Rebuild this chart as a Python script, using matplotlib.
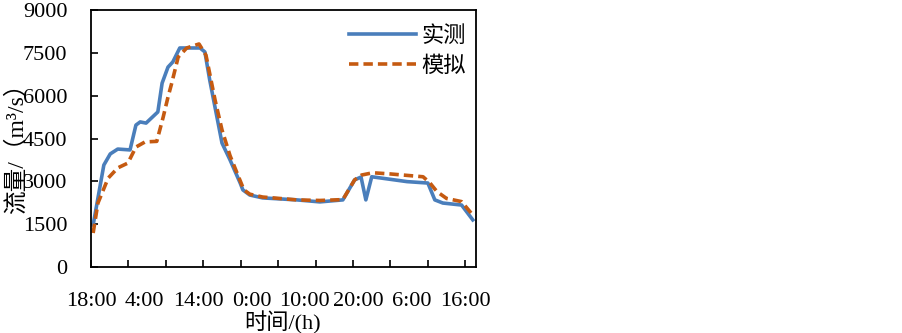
import matplotlib
matplotlib.use("Agg")
import matplotlib.pyplot as plt

# hours since 18:00 on day one
measured_hours = [0.4, 2.4, 3.6, 5.0, 7.3, 8.4, 9.2, 10.3, 12.5, 13.3, 14.4, 15.3, 16.6,
                  20.4, 21.3, 22.2, 24.5, 26.0, 27.9, 28.4, 29.7, 32.1, 38.5, 42.8, 47.1,
                  49.3, 50.5, 51.4, 52.5, 59.1, 63.0, 64.3, 65.8, 69.3, 71.4]
measured_flow = [1470, 3570, 3960, 4130, 4100, 4970, 5080, 5040, 5430, 6440, 7000, 7180, 7670,
                 7670, 7530, 6550, 4340, 3750, 2940, 2700, 2520, 2420, 2350, 2280, 2350,
                 3050, 3150, 2350, 3160, 2990, 2940, 2350, 2240, 2170, 1650]

sim_hours = [0.4, 1.3, 3.2, 5.0, 6.9, 8.4, 10.1, 12.3, 13.5, 14.4, 15.1, 16.3, 17.9,
             20.2, 21.5, 23.2, 24.5, 26.0, 27.4, 28.6, 29.7, 32.1, 38.5, 42.8, 47.1,
             49.3, 50.6, 52.7, 55.9, 62.1, 63.4, 64.7, 66.5, 69.3, 71.4]
sim_flow = [1190, 2240, 3110, 3470, 3640, 4200, 4380, 4400, 5250, 5950, 6440, 7350, 7670,
            7810, 7420, 5850, 4800, 3900, 3250, 2700, 2550, 2450, 2350, 2330, 2360,
            3050, 3220, 3300, 3260, 3160, 2940, 2640, 2400, 2290, 1820]

label_hours = [0, 10, 20, 30, 40, 50, 60, 70]
time_labels = ["18:00", "4:00", "14:00", "0:00", "10:00", "20:00", "6:00", "16:00"]
y_ticks = [0, 1500, 3000, 4500, 6000, 7500, 9000]

serif = ["Liberation Serif", "Noto Sans CJK SC"]
plt.rcParams["font.family"] = serif

fig = plt.figure(figsize=(9.03, 3.33), dpi=100)
ax = fig.add_axes([91 / 903, 66 / 333, 385 / 903, 257 / 333])

ax.plot(measured_hours, measured_flow, color="#4A7EBB", lw=2.6, label="实测")
ax.plot(sim_hours, sim_flow, color="#C55A11", lw=2.6, ls=(0, (2.6, 1.4)), label="模拟")

ax.set_xlim(0, 72)
ax.set_ylim(0, 9000)
ax.set_yticks(y_ticks)
ax.xaxis.remove_overlapping_locs = False
ax.set_xticks(range(0, 71, 7))
ax.set_xticklabels([])
ax.set_xticks(label_hours, minor=True)
ax.set_xticklabels(time_labels, minor=True)
ax.tick_params(axis="x", which="major", direction="in", length=5, width=1.2)
ax.tick_params(axis="x", which="minor", length=0, pad=18, labelsize=16)
ax.tick_params(axis="y", direction="in", length=5, width=1.2, pad=17, labelsize=16)
for s in ax.spines.values():
    s.set_linewidth(1.3)

ax.legend(loc="upper right", bbox_to_anchor=(1.0, 0.975), frameon=False,
          handlelength=3.0, handletextpad=0.25, labelspacing=0.4, borderaxespad=0.05,
          prop={"family": serif, "size": 16})

fig.text(16 / 903, 1 - 143 / 333, "流量/（m³/s）", rotation=90, ha="center", va="center",
         fontsize=17, family=serif)
fig.text(283 / 903, 1 - 323 / 333, "时间/(h)", ha="center", va="center",
         fontsize=16, family=serif)

fig.savefig("out.png", dpi=100)
